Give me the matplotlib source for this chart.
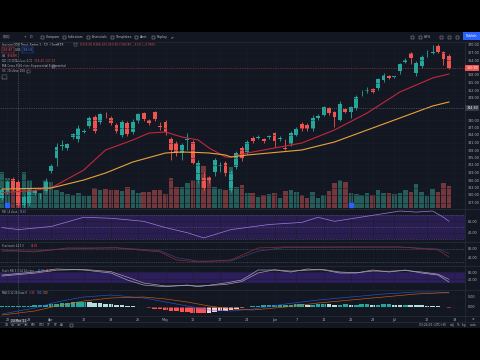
import matplotlib.pyplot as plt
from matplotlib.patches import Rectangle

# daily QQQ bars, 19 Mar - 16 Jul 2021
opens = [308.8, 311.2, 316.4, 315.2, 306.0, 306.4, 310.8, 309.6, 311.6, 319.6,
         324.8, 329.8, 328.8, 333.2, 332.4, 335.4, 337.6, 341.2, 339.2, 342.8,
         340.8, 338.0, 334.0, 338.8, 335.2, 339.6, 342.8, 340.0, 343.2, 337.6,
         339.2, 332.4, 330.8, 326.8, 332.2, 331.2, 316.0, 316.8, 316.8, 319.2,
         321.6, 322.8, 312.0, 321.2, 328.8, 327.2, 332.8, 333.0, 332.4, 333.2,
         334.8, 332.4, 328.8, 330.4, 334.0, 338.4, 338.0, 336.4, 340.8, 342.0,
         344.8, 343.2, 340.0, 344.4, 343.2, 344.8, 350.6, 351.8, 352.4, 352.8,
         356.0, 357.6, 357.2, 359.6, 363.2, 366.8, 358.8, 361.6, 366.6, 366.8,
         369.6, 367.2, 365.6]
highs = [312.8, 316.0, 317.2, 316.0, 310.0, 313.0, 312.4, 311.0, 316.8, 322.4,
         330.8, 332.0, 331.0, 335.0, 338.0, 336.4, 341.6, 342.0, 343.0, 343.2,
         341.6, 339.0, 340.0, 339.6, 340.4, 343.0, 343.2, 340.4, 343.6, 339.2,
         340.0, 333.2, 331.6, 330.8, 334.8, 332.0, 324.0, 319.2, 317.6, 324.8,
         323.2, 323.6, 320.0, 327.6, 329.6, 332.0, 333.6, 334.0, 333.0, 334.0,
         335.4, 333.6, 332.4, 335.6, 337.2, 339.2, 338.8, 342.0, 342.4, 345.8,
         345.4, 343.8, 347.6, 345.0, 345.8, 350.0, 352.0, 353.2, 353.0, 357.0,
         358.8, 358.2, 357.8, 362.8, 364.6, 367.2, 363.6, 365.8, 368.0, 370.0,
         370.4, 367.6, 366.4]
lows = [308.0, 310.4, 311.6, 305.2, 305.0, 305.6, 310.0, 308.4, 311.0, 319.0,
        321.6, 328.0, 328.0, 332.6, 331.2, 335.0, 337.0, 334.8, 338.6, 341.0,
        338.0, 335.0, 333.4, 333.6, 334.6, 339.0, 339.6, 338.0, 339.6, 336.0,
        334.0, 324.0, 325.6, 324.0, 328.0, 322.4, 314.8, 312.0, 314.8, 317.6,
        319.2, 317.6, 311.2, 320.4, 323.6, 326.4, 331.0, 332.4, 331.0, 332.4,
        329.2, 331.6, 328.0, 329.6, 333.6, 335.8, 335.6, 335.8, 340.2, 341.6,
        342.2, 337.2, 339.6, 342.6, 340.8, 344.0, 349.6, 351.0, 350.8, 352.2,
        355.2, 356.4, 356.6, 358.4, 362.8, 362.4, 357.6, 361.0, 365.2, 366.4,
        366.8, 362.0, 360.4]
closes = [312.0, 315.2, 312.4, 306.0, 309.2, 312.0, 311.6, 309.8, 315.2, 321.6,
          329.2, 330.0, 330.4, 334.4, 336.8, 335.8, 340.8, 335.6, 342.4, 342.6,
          338.8, 335.6, 339.2, 334.4, 339.2, 342.4, 340.4, 338.8, 340.4, 337.4,
          335.2, 328.0, 326.8, 330.0, 332.4, 322.8, 322.8, 312.8, 315.6, 324.0,
          321.8, 318.8, 319.2, 326.8, 324.8, 331.2, 331.6, 333.2, 331.6, 333.4,
          331.6, 332.6, 328.4, 334.8, 336.4, 336.4, 336.4, 340.8, 341.6, 345.2,
          342.8, 341.2, 346.4, 343.2, 345.2, 349.2, 350.8, 352.0, 351.2, 356.4,
          358.0, 356.8, 357.3, 362.4, 364.0, 364.8, 362.8, 365.2, 366.8, 367.0,
          367.2, 364.4, 360.8]
volumes = [90, 75, 65, 50, 90, 70, 45, 37, 70, 65, 45, 40, 35, 32, 37, 30, 30, 50, 45, 47,
           45, 45, 42, 52, 45, 37, 40, 40, 45, 45, 35, 75, 52, 52, 62, 70, 112, 105, 77, 52,
           47, 45, 102, 52, 57, 37, 37, 27, 32, 35, 37, 25, 42, 45, 40, 32, 25, 40, 25, 32,
           42, 62, 70, 65, 37, 35, 32, 37, 32, 45, 37, 37, 35, 37, 45, 40, 60, 40, 30, 47,
           40, 62, 55]

ma_idx = [0, 5, 9, 15, 19, 24, 27, 30, 33, 36, 38, 41, 42, 45, 51, 55, 61, 67, 73, 79, 82]
ma_fast = [311.0, 311.6, 312.8, 320.0, 328.0, 332.0, 334.8, 335.2, 333.2, 332.0, 328.8,
           325.2, 325.2, 326.8, 329.2, 330.8, 336.0, 342.8, 351.2, 356.8, 358.4]
ma_slow = [312.4, 312.6, 312.8, 316.0, 318.8, 323.2, 325.0, 326.8, 327.2, 327.0, 326.8,
           326.0, 325.2, 326.0, 327.2, 328.0, 331.2, 336.0, 340.8, 345.6, 347.2]

rsi_idx = [0, 3, 9, 15, 20, 26, 30, 34, 37, 42, 49, 55, 58, 61, 67, 73, 76, 79, 81, 82]
rsi_vals = [49.1, 45.7, 50.9, 66.5, 64.8, 59.6, 49.1, 40.4, 31.7, 45.7, 54.3, 57.8,
            66.5, 59.6, 68.3, 77.0, 75.2, 77.0, 66.5, 59.6]

stoch_idx = [0, 6, 12, 21, 29, 32, 36, 42, 47, 52, 64, 73, 80, 82]
stoch_k = [75.4, 66.2, 84.6, 84.6, 66.2, 29.2, 20.0, 29.2, 84.6, 89.2, 89.2, 89.2, 75.4, 42.8]
stoch_d = [70.0, 70.5, 80.0, 86.0, 72.0, 40.0, 24.0, 25.0, 70.0, 87.0, 88.0, 88.5, 80.0, 60.0]

srsi_idx = [0, 6, 10, 15, 20, 23, 26, 30, 34, 36, 41, 44, 47, 50, 53, 56, 59, 62, 65,
            68, 71, 74, 77, 80, 82]
srsi_k = [63.6, 80.0, 96.4, 90.9, 74.5, 36.4, 9.1, 0.0, 9.1, 0.0, 20.0, 36.4, 90.9,
          90.9, 80.0, 96.4, 90.9, 74.5, 74.5, 90.9, 80.0, 90.9, 74.5, 63.6, 25.5]
srsi_d = [58.0, 74.0, 90.0, 94.0, 82.0, 52.0, 20.0, 4.0, 6.0, 4.0, 12.0, 28.0, 75.0,
          92.0, 85.0, 90.0, 93.0, 80.0, 76.0, 85.0, 84.0, 88.0, 80.0, 68.0, 40.0]

macd_idx = [0, 6, 10, 15, 20, 26, 30, 34, 38, 42, 46, 52, 58, 64, 70, 76, 80, 82]
macd_line = [-3.5, -0.5, 2.5, 5.0, 6.0, 4.5, 2.5, 0.5, -1.5, -2.0, -1.0, 1.5, 3.5, 5.0,
             6.5, 7.5, 7.5, 7.0]
macd_signal = [-4.0, -2.0, 0.5, 3.0, 4.5, 5.0, 4.0, 2.5, 0.5, -1.0, -1.5, 0.0, 2.0, 3.5,
               5.0, 6.5, 7.0, 7.2]
macd_hist = [0.3, 0.4, 0.5, 0.5, 0.6, 0.7, 0.8, 0.9, 1.0, 1.3, 1.6, 1.9, 2.1, 2.3, 2.4,
             2.5, 2.4, 2.2, 2.0, 1.7, 1.4, 1.1, 0.8, 0.5, 0.3, 0.1, -0.2, -0.5, -0.8, -1.1,
             -1.4, -1.8, -2.2, -2.5, -2.7, -2.9, -3.0, -3.1, -2.9, -2.6, -2.2, -1.8, -1.4,
             -0.9, -0.4, 0.1, 0.4, 0.6, 0.8, 0.9, 1.0, 1.0, 1.1, 1.2, 1.3, 1.3, 1.2, 1.2,
             1.3, 1.4, 1.3, 1.1, 1.2, 1.3, 1.2, 1.2, 1.3, 1.3, 1.2, 1.2, 1.3, 1.3, 1.2,
             1.1, 1.1, 1.0, 0.9, 0.8, 0.7, 0.6, 0.4, 0.1, -0.3]

date_pos = [1, 5, 9, 15, 20, 25, 30, 35, 40, 45, 50, 54, 59, 64, 68, 72, 78, 83]
date_labels = ['22', '29', 'Apr', '12', '19', '26', 'May', '10', '17', '24', 'Jun',
               '7', '14', '21', '28', 'Jul', '12', '19']
cross_bar = 3
cross_price = 344.8

BG = '#131722'
UP = '#26a69a'
DN = '#ef5350'
TXT = '#b2b5be'
GRID = '#1a1e2a'
SEP = '#2a2e39'

W, H = 480, 360
fig = plt.figure(figsize=(4.8, 3.6), dpi=100, facecolor='black')


def box(x0, y0, x1, y1):
    return [x0 / W, 1 - y1 / H, (x1 - x0) / W, (y1 - y0) / H]


bg = fig.add_axes([0, 0, 1, 1])
bg.set_xlim(0, W)
bg.set_ylim(H, 0)
bg.axis('off')
bg.add_patch(Rectangle((0, 32), 480, 296, color=BG, lw=0))

n = len(closes)
idx = list(range(n))
XMIN, XMAX = -0.37, 84.95
TS = 2.4  # axis label size


def panel(y0, y1):
    a = fig.add_axes(box(0, y0, 465, y1))
    a.set_facecolor('none')
    a.set_xlim(XMIN, XMAX)
    for s in a.spines.values():
        s.set_visible(False)
    a.yaxis.tick_right()
    a.tick_params(length=0, labelsize=TS, colors=TXT, pad=1.8)
    a.set_xticks(date_pos)
    a.set_xticklabels([])
    a.grid(color=GRID, lw=0.4)
    a.axvline(cross_bar, color='#6a6e7c', lw=0.4, ls=(0, (2, 2)))
    return a


# volume under the candles
up = [c >= o for o, c in zip(opens, closes)]
axv = fig.add_axes(box(0, 42, 465, 208))
axv.set_facecolor('none')
axv.axis('off')
axv.set_xlim(XMIN, XMAX)
axv.set_ylim(0, 415)
axv.bar(idx, volumes, width=0.82, color=['#245d59' if u else '#74383c' for u in up], lw=0)

ax = panel(42, 208)
ax.set_ylim(304.8, 371.2)
ticks = [t for t in range(307, 371, 3)
         if abs(t - closes[-1]) > 2.2 and abs(t - cross_price) > 2.2]
ax.set_yticks(ticks)
ax.set_yticklabels([f'{t:.2f}' for t in ticks])
cols = [UP if u else DN for u in up]
ax.vlines(idx, lows, highs, colors=cols, lw=0.6)
bottoms = [min(o, c) for o, c in zip(opens, closes)]
heights = [max(abs(c - o), 0.3) for o, c in zip(opens, closes)]
ax.bar(idx, heights, bottom=bottoms, width=0.72, color=cols, lw=0)
ax.plot(ma_idx, ma_fast, color='#c2283a', lw=0.8)
ax.plot(ma_idx, ma_slow, color='#e8a33a', lw=0.8)
ax.plot([1, 64], [306.0, 306.0], ls='none', marker='s', ms=2.2, color='#2962ff')
ax.axhline(closes[-1], color=DN, lw=0.5, ls=(0, (1, 1.5)), alpha=0.7)
ax.axhline(cross_price, color='#6a6e7c', lw=0.4, ls=(0, (2, 2)))
ytr = ax.get_yaxis_transform()
ax.text(1.003, closes[-1], f'{closes[-1]:.2f}', transform=ytr, fontsize=TS, color='white',
        va='center', bbox=dict(fc=DN, ec='none', pad=0.8))
ax.text(1.003, cross_price, f'{cross_price:.2f}', transform=ytr, fontsize=TS, color='white',
        va='center', bbox=dict(fc='#363a45', ec='none', pad=0.8))

# RSI
ar = panel(209, 242)
ar.set_ylim(24.8, 80.4)
ar.set_yticks([40, 60])
ar.set_yticklabels(['40.00', '60.00'])
ar.axhspan(30, 70, color='#291d52', lw=0)
for v in (30, 50, 70):
    ar.axhline(v, color='#5d6070', lw=0.4, ls=(0, (2, 2)))
ar.plot(rsi_idx, rsi_vals, color='#9c7ce0', lw=0.5)

# Stochastic
ast = panel(242, 266)
ast.set_ylim(1.5, 112)
ast.set_yticks([40, 80])
ast.set_yticklabels(['40.00', '80.00'])
for v in (20, 80):
    ast.axhline(v, color='#5d6070', lw=0.4, ls=(0, (2, 2)))
ast.plot(stoch_idx, stoch_d, color='#3a3f7a', lw=0.5)
ast.plot(stoch_idx, stoch_k, color='#8e2a35', lw=0.5)

# Stoch RSI
asr = panel(266, 290)
asr.set_ylim(-18, 112.7)
asr.set_yticks([40, 80])
asr.set_yticklabels(['40.00', '80.00'])
asr.axhspan(20, 80, color='#2c1e5c', lw=0)
asr.plot(srsi_idx, srsi_d, color='#b8939b', lw=0.5)
asr.plot(srsi_idx, srsi_k, color='#9aa2c8', lw=0.5)

# MACD
am = panel(290, 316)
am.set_ylim(-4.5, 8.5)
am.set_yticks([0, 5])
am.set_yticklabels(['0.00', '5.00'])
hcols = []
for k, v in enumerate(macd_hist):
    prev = macd_hist[k - 1] if k else v
    if v >= 0:
        hcols.append('#26a69a' if v >= prev else '#b2dfdb')
    else:
        hcols.append('#ffcdd2' if v > prev else '#ff5252')
am.bar(idx, macd_hist, width=0.85, color=hcols, lw=0)
am.plot(macd_idx, macd_line, color='#2962ff', lw=0.45, alpha=0.8)
am.plot(macd_idx, macd_signal, color='#ff6d00', lw=0.45, alpha=0.8)
am.set_xticklabels(date_labels)
am.tick_params(axis='x', labelsize=TS, colors=TXT, pad=1.2)
am.text(cross_bar, -0.13, "24 Mar '21", transform=am.get_xaxis_transform(), fontsize=2.1,
        color='white', ha='center', va='top', bbox=dict(fc='#363a45', ec='none', pad=0.5))

# panel separators and price scale border
for y in (208.5, 242, 266, 290, 316, 322):
    bg.plot([0, 480], [y, y], color=SEP, lw=0.5)
bg.plot([465, 465], [42, 322], color=SEP, lw=0.5)
bg.plot([0, 480], [42, 42], color=SEP, lw=0.5)

# top toolbar
fs = 2.3
for x, s in [(3, 'QQQ'), (24, '+'), (30, 'D'), (46, 'Compare'), (68, 'Indicators'),
             (92, 'Financials'), (116, 'Templates'), (140, 'Alert'), (157, 'Replay'),
             (171, '\u21b6'), (424, '63%')]:
    bg.text(x, 37, s, fontsize=fs, color=TXT, va='center')
for x in (42, 64, 88, 112, 136, 153, 412, 420, 441, 449, 457):
    bg.add_patch(Rectangle((x - 1.5, 35.5), 3, 3, fill=False, ec=TXT, lw=0.3))
bg.add_patch(Rectangle((463, 32), 17, 8, color='#2962ff', lw=0))
bg.text(471.5, 36, 'Publish', fontsize=2.3, color='white', ha='center', va='center')

# main legend
lf = 2.1
bg.text(2, 44.5, 'Invesco QQQ Trust, Series 1 \u00b7 1D \u00b7 CboeBZX', fontsize=lf,
        color='#d1d4dc', va='center')
bg.add_patch(Rectangle((73.5, 43), 3, 3, fill=False, ec=TXT, lw=0.3))
bg.text(80, 44.5, 'O365.60 H366.40 L360.40 C360.80 \u22123.60 (\u22120.99%)', fontsize=lf,
        color=DN, va='center')
bg.text(2.5, 50, f'{closes[-1]:.2f}', fontsize=lf, color=DN, va='center',
        bbox=dict(fc='none', ec=DN, lw=0.3, pad=0.6))
bg.text(15, 50, '0.06', fontsize=lf, color=TXT, va='center')
bg.text(22.5, 50, f'{opens[-1]:.2f}', fontsize=lf, color='#5b8cff', va='center',
        bbox=dict(fc='none', ec='#2962ff', lw=0.3, pad=0.6))
bg.text(2, 56, 'Vol', fontsize=lf, color=TXT, va='center')
bg.text(7, 56, '59.84M', fontsize=lf, color=DN, va='center')
bg.text(2, 61.5, 'BB 20 SMA close 200', fontsize=lf, color=TXT, va='center')
bg.text(34, 61.5, f'{ma_fast[-1]:.2f} {ma_slow[-1]:.2f}', fontsize=lf, color=DN, va='center')
bg.text(2, 66.5, 'MA Cross 9 26 close Exponential Exponential', fontsize=lf, color=TXT,
        va='center')
bg.add_patch(Rectangle((51.5, 65), 3, 3, fill=False, ec=TXT, lw=0.3))
bg.text(2, 71.5, 'VC 20 close 100', fontsize=lf, color=TXT, va='center')
bg.add_patch(Rectangle((27, 70), 3, 3, fill=False, ec=TXT, lw=0.3))
bg.add_patch(Rectangle((2, 74.5), 5, 4, fill=False, ec=TXT, lw=0.3))

# indicator legends
sf = 1.8
bg.text(2, 212, 'RSI 14 close', fontsize=sf, color=TXT, va='center')
bg.text(20, 212, f'{rsi_vals[-1]:.2f}', fontsize=sf, color='#9c7ce0', va='center')
bg.text(2, 246, 'Stochastic 14 3 3', fontsize=sf, color=TXT, va='center')
bg.text(31, 246, f'{stoch_k[-1]:.2f}', fontsize=sf, color=DN, va='center')
bg.text(2, 270.5, 'Stoch RSI 3 3 14 14 close', fontsize=sf, color=TXT, va='center')
bg.text(38, 270.5, '75.80', fontsize=sf, color='#5b8cff', va='center')
bg.text(46, 270.5, '74.30', fontsize=sf, color='#ff8a3d', va='center')
bg.text(2, 292.5, 'MACD 12 26 close 9', fontsize=sf, color=TXT, va='center')
bg.text(29, 292.5, f'{macd_hist[-1]:.2f}', fontsize=sf, color='#ff5252', va='center')
bg.text(36.5, 292.5, f'{macd_line[-1]:.2f}', fontsize=sf, color='#5b8cff', va='center')
bg.text(43, 292.5, f'{macd_signal[-1]:.2f}', fontsize=sf, color='#ff8a3d', va='center')

# bottom bar
for x, s in [(5, '1D'), (11, '5D'), (17, '1M'), (24, '3M'), (31, '6M'), (38, 'YTD'),
             (47, '1Y'), (54, '5Y'), (60, 'All')]:
    bg.text(x, 325, s, fontsize=2.2, color=TXT, va='center')
bg.add_patch(Rectangle((69.5, 323.5), 3, 3, fill=False, ec=TXT, lw=0.3))
for x, s in [(419, '03:24:25 (UTC+8)'), (450, 'adj'), (457, '%'), (462, 'log'), (470, 'auto')]:
    bg.text(x, 325, s, fontsize=2.2, color=TXT, va='center')
bg.text(472, 319, '\u2699', fontsize=2.2, color=TXT, va='center')

fig.savefig('out.png', dpi=100, facecolor='black')
